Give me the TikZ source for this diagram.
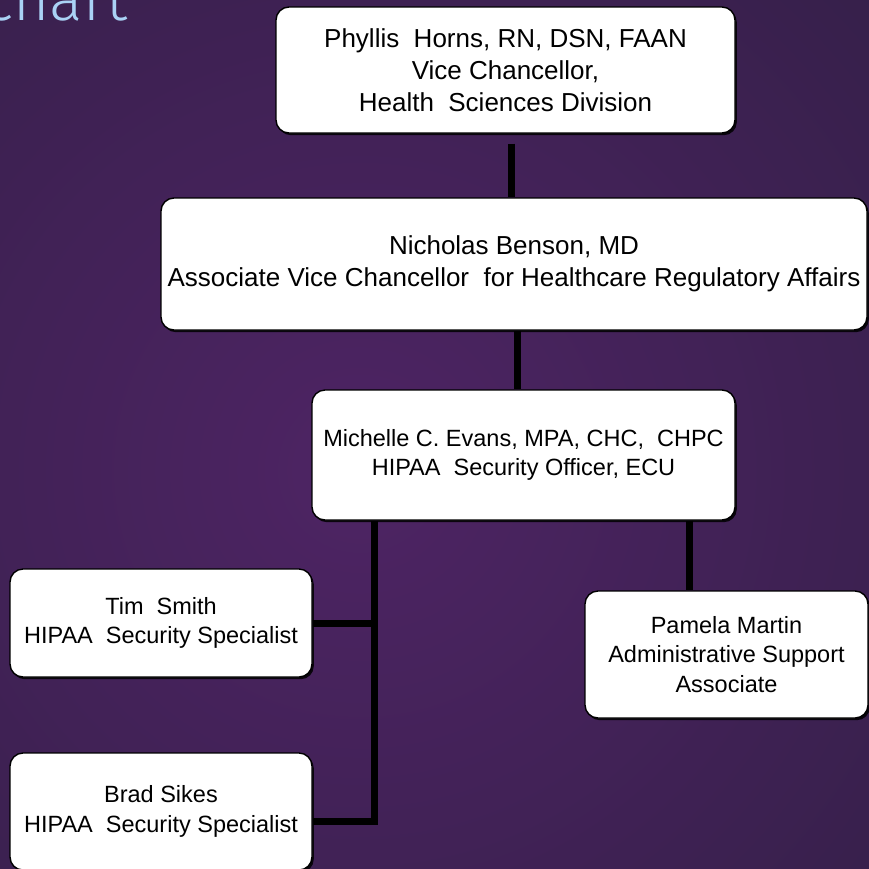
\documentclass[tikz,border=0pt]{standalone}
\usepackage{fontspec}
\setmainfont{Liberation Sans}
\newfontfamily\titlefont{Fira Sans}[UprightFont={* Light}]
\usetikzlibrary{positioning,calc,shadows}
\definecolor{bgmid}{RGB}{78,36,100}
\definecolor{bgedge}{RGB}{50,31,70}
\definecolor{titleblue}{RGB}{170,210,245}

\begin{document}
\begin{tikzpicture}[x=1pt, y=-1pt,
    person/.style={rectangle, rounded corners=13pt, draw=black, line width=1.4pt,
        fill=white, align=center, inner sep=2pt, text=black,
        drop shadow={shadow xshift=1.8pt, shadow yshift=-2.2pt, fill=black, opacity=0.85}},
    big/.style={person, font=\fontsize{26}{32}\selectfont},
    small/.style={person, font=\fontsize{23.5}{29.5}\selectfont},
    link/.style={line width=7pt, draw=black}
]
    \useasboundingbox (0,0) rectangle (869,868);
    \begin{scope}
        \clip (0,0) rectangle (869,868);
        \shade[inner color=bgmid, outer color=bgedge] (360,470) circle (820pt);

        \node[font=\titlefont\fontsize{62}{70}\selectfont, text=titleblue, anchor=base east]
            (title) at (131,20) {chart};

        % top of the tree
        \node[big, minimum width=459pt, minimum height=126pt] (vc) at (505.5,70)
            {Phyllis~ Horns, RN, DSN, FAAN\\Vice Chancellor,\\Health~ Sciences Division};
        \node[big, minimum width=706pt, minimum height=132pt] (avc) at (514,264)
            {Nicholas Benson, MD\\Associate Vice Chancellor~ for Healthcare Regulatory Affairs};
        \node[small, minimum width=423pt, minimum height=130pt] (officer) at (523.5,455)
            {Michelle C. Evans, MPA, CHC,~ CHPC\\HIPAA~ Security Officer, ECU};

        % staff
        \node[small, minimum width=302pt, minimum height=108pt] (tim) at (161,623)
            {Tim~ Smith\\HIPAA~ Security Specialist};
        \node[small, minimum width=302pt, minimum height=117pt] (brad) at (161,811.5)
            {Brad Sikes\\HIPAA~ Security Specialist};
        \node[small, minimum width=283pt, minimum height=127pt] (pam) at (726.5,654.5)
            {Pamela Martin\\Administrative Support\\Associate};

        % reporting lines
        \draw[link] ([xshift=5.5pt, yshift=-10pt]vc.south) -- ([xshift=-3pt]avc.north);
        \draw[link] ([xshift=3pt]avc.south) -- ([xshift=-6.5pt]officer.north);
        \coordinate (trunk) at ([xshift=-149.5pt]officer.south);
        \draw[link] (trunk) |- ([yshift=-9.5pt]brad.east);
        \draw[link] (tim.east) -- (tim.east -| trunk);
        \draw[link] ([xshift=165.5pt]officer.south) -- ([xshift=-37.5pt]pam.north);
    \end{scope}
\end{tikzpicture}
\end{document}
